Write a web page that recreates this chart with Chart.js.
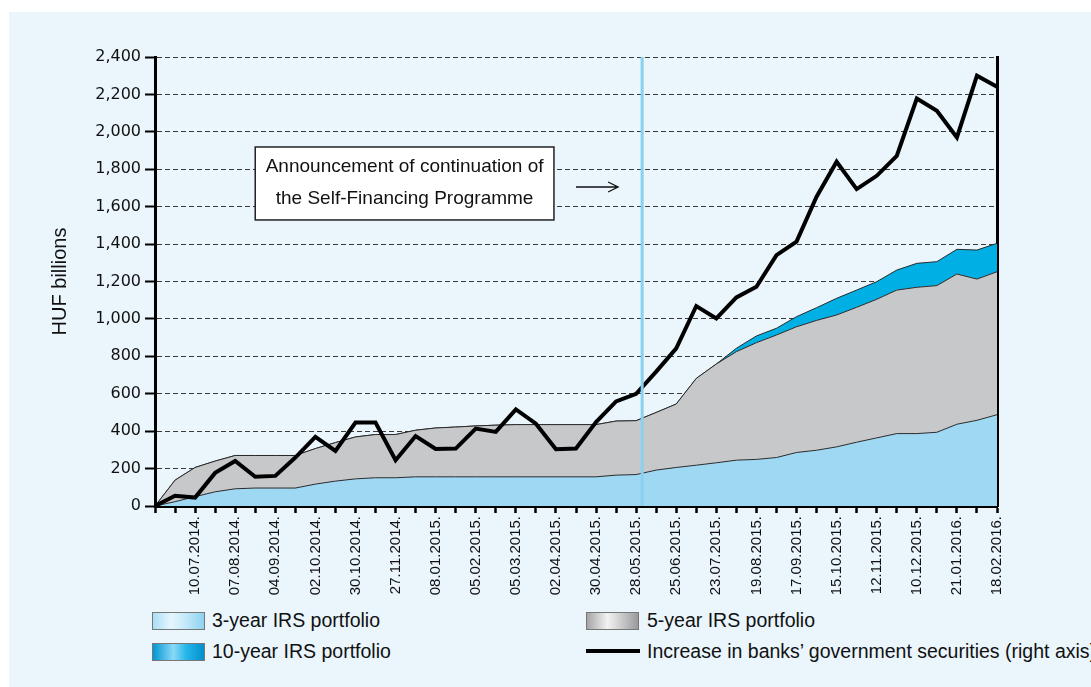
<!DOCTYPE html>
<html>
<head>
<meta charset="utf-8">
<script src="https://cdn.jsdelivr.net/npm/chart.js@4/dist/chart.umd.min.js"></script>
<style>
  html, body { margin: 0; padding: 0; background: #ffffff; }
  #panel {
    position: absolute; left: 9px; top: 12px; width: 1082px; height: 675px;
    background: #eaf5fc; overflow: hidden;
  }
  #wrap { position: absolute; left: 0; top: 0; width: 1091px; height: 687px; overflow: hidden; }
  canvas { position: absolute; left: 0; top: 0; }
  .lg { position: absolute; font: 19.5px "Liberation Sans", Arial, sans-serif; color: #111; white-space: nowrap; line-height: 22px; }
  .box { position: absolute; width: 51px; height: 16px; border: 1px solid #777; }
  .b3 { background: linear-gradient(90deg, #a9def5 0%, #e6f6fd 35%, #c8ebfa 60%, #8ed2f1 100%); }
  .b5 { background: linear-gradient(90deg, #a5a5a7 0%, #f2f2f2 40%, #cfcfd1 65%, #9a9a9c 100%); }
  .b10 { background: linear-gradient(90deg, #0096d2 0%, #8ad9f6 40%, #27b6ea 65%, #0090cc 100%); }
  .ln { position: absolute; width: 54px; height: 4px; background: #000; }
</style>
</head>
<body>
<div id="panel"></div>
<div id="wrap">
  <canvas id="chart" width="1091" height="600"></canvas>
  <div class="box b3" style="left:152px; top:612px;"></div>
  <div class="lg" style="left:212px; top:609px;">3-year IRS portfolio</div>
  <div class="box b10" style="left:152px; top:643px;"></div>
  <div class="lg" style="left:212px; top:640px;">10-year IRS portfolio</div>
  <div class="box b5" style="left:586px; top:612px;"></div>
  <div class="lg" style="left:647px; top:609px;">5-year IRS portfolio</div>
  <div class="ln" style="left:586px; top:649px;"></div>
  <div class="lg" style="left:647px; top:640px;">Increase in banks’ government securities (right axis)</div>
</div>
<script>
// ===== DATA =====
const dateLabels = ['',
  '', '10.07.2014.', '', '07.08.2014.', '', '04.09.2014.', '', '02.10.2014.',
  '', '30.10.2014.', '', '27.11.2014.', '', '08.01.2015.', '', '05.02.2015.',
  '', '05.03.2015.', '', '02.04.2015.', '', '30.04.2015.', '', '28.05.2015.',
  '', '25.06.2015.', '', '23.07.2015.', '', '19.08.2015.', '', '17.09.2015.',
  '', '15.10.2015.', '', '12.11.2015.', '', '10.12.2015.', '', '21.01.2016.',
  '', '18.02.2016.'];

const irs3 = [0, 23, 50, 76, 92, 96, 96, 96, 117, 133, 145, 151, 151, 156, 156,
  156, 156, 156, 156, 156, 156, 156, 156, 165, 168, 192, 206, 218, 231, 245,
  249, 259, 286, 298, 316, 341, 364, 387, 387, 394, 437, 458, 488];

const irs5 = [0, 115, 156, 164, 178, 174, 174, 174, 190, 206, 224, 231, 231, 249, 261,
  266, 272, 276, 279, 279, 279, 279, 279, 289, 288, 308, 339, 464, 528, 580,
  624, 655, 672, 694, 705, 721, 741, 767, 782, 784, 803, 755, 764];

const irs10 = [0, 0, 0, 0, 0, 0, 0, 0, 0, 0, 0, 0, 0, 0, 0,
  0, 0, 0, 0, 0, 0, 0, 0, 0, 0, 0, 0, 0, 0, 18,
  36, 36, 54, 68, 89, 92, 94, 107, 128, 128, 132, 155, 152];

const govSec = [0, 55, 45, 177, 241, 156, 161, 259, 369, 294, 446, 446, 245, 374, 305,
  307, 414, 396, 516, 440, 304, 307, 449, 559, 600, 718, 843, 1069, 1003, 1115,
  1172, 1341, 1413, 1653, 1840, 1694, 1765, 1871, 2178, 2112, 1970, 2300, 2241];

const yMin = 0, yMax = 2400, yStep = 200;

// announcement marker (x in category index units, y in HUF bn)
const markerX = 24.3;
const noteLines = ['Announcement of continuation of', 'the Self-Financing Programme'];
const noteBox = { x0: 5.0, x1: 19.9, yTop: 1919, yBot: 1529, textY: [1812, 1643] };
const noteArrow = { x0: 21.0, x1: 23.1, y: 1705 };

// ===== PLUGINS =====
const announcePlugin = {
  id: 'announce',
  afterDatasetsDraw(chart) {
    const { ctx, chartArea, scales } = chart;
    const x = scales.x, y = scales.y;
    ctx.save();
    ctx.setLineDash([]);
    // vertical marker
    const mx = x.getPixelForValue(markerX);
    ctx.strokeStyle = '#8ad0f0';
    ctx.lineWidth = 3;
    ctx.beginPath();
    ctx.moveTo(mx, chartArea.top);
    ctx.lineTo(mx, chartArea.bottom);
    ctx.stroke();

    // note box
    const bx0 = x.getPixelForValue(noteBox.x0), bx1 = x.getPixelForValue(noteBox.x1);
    const by0 = y.getPixelForValue(noteBox.yTop), by1 = y.getPixelForValue(noteBox.yBot);
    ctx.fillStyle = '#ffffff';
    ctx.fillRect(bx0, by0, bx1 - bx0, by1 - by0);
    ctx.strokeStyle = '#222';
    ctx.lineWidth = 1.5;
    ctx.strokeRect(bx0, by0, bx1 - bx0, by1 - by0);
    ctx.fillStyle = '#111';
    ctx.font = '19px "Liberation Sans", Arial, sans-serif';
    ctx.textAlign = 'center';
    ctx.textBaseline = 'middle';
    noteLines.forEach((t, i) => ctx.fillText(t, (bx0 + bx1) / 2, y.getPixelForValue(noteBox.textY[i])));

    // arrow
    const ax0 = x.getPixelForValue(noteArrow.x0), ax1 = x.getPixelForValue(noteArrow.x1);
    const ay = y.getPixelForValue(noteArrow.y);
    ctx.strokeStyle = '#111';
    ctx.lineWidth = 1.3;
    ctx.beginPath();
    ctx.moveTo(ax0, ay);
    ctx.lineTo(ax1, ay);
    ctx.moveTo(ax1 - 10, ay - 5);
    ctx.lineTo(ax1, ay);
    ctx.lineTo(ax1 - 10, ay + 5);
    ctx.stroke();
    ctx.restore();
  }
};

// ===== CHART =====
new Chart(document.getElementById('chart'), {
  type: 'line',
  data: {
    labels: dateLabels,
    datasets: [
      {
        label: 'Increase in banks’ government securities (right axis)',
        data: govSec,
        yAxisID: 'yR',
        borderColor: '#000',
        borderWidth: 4,
        borderJoinStyle: 'miter',
        pointRadius: 0,
        fill: false,
        tension: 0,
      },
      {
        label: '3-year IRS portfolio',
        data: irs3,
        yAxisID: 'y',
        borderColor: '#2a2a2a',
        borderWidth: 1,
        backgroundColor: '#9fd8f3',
        pointRadius: 0,
        fill: 'origin',
        tension: 0,
      },
      {
        label: '5-year IRS portfolio',
        data: irs5,
        yAxisID: 'y',
        borderColor: '#2a2a2a',
        borderWidth: 1,
        backgroundColor: '#c7c8ca',
        pointRadius: 0,
        fill: '-1',
        tension: 0,
      },
      {
        label: '10-year IRS portfolio',
        data: irs10,
        yAxisID: 'y',
        borderColor: '#2a2a2a',
        borderWidth: 1,
        backgroundColor: '#00b0e5',
        pointRadius: 0,
        fill: '-1',
        tension: 0,
      },
    ],
  },
  options: {
    responsive: false,
    animation: false,
    layout: { padding: { left: 0, right: 94, top: 57, bottom: 0 } },
    plugins: { legend: { display: false }, tooltip: { enabled: false } },
    scales: {
      x: {
        offset: false,
        grid: { drawOnChartArea: false, drawTicks: true, tickLength: 7, tickColor: '#000', tickWidth: 2.5 },
        border: { color: '#000', width: 3 },
        ticks: {
          autoSkip: false, maxRotation: 90, minRotation: 90, padding: 3,
          color: '#111', font: { family: '"Liberation Sans", Arial, sans-serif', size: 15 },
        },
        afterFit: (s) => { s.height = 94; },
      },
      y: {
        stacked: true,
        min: yMin, max: yMax,
        grid: { color: '#3a3a3a', lineWidth: 1, tickColor: '#000', tickWidth: 2, tickLength: 10, tickBorderDash: [] },
        border: { color: '#000', width: 3, dash: [5, 3] },
        ticks: {
          stepSize: yStep, padding: 4, color: '#111',
          font: { family: '"DejaVu Sans", sans-serif', size: 16 },
          callback: (v) => v.toLocaleString('en-US'),
        },
        title: {
          display: true, text: 'HUF billions', color: '#111',
          font: { family: '"Liberation Sans", Arial, sans-serif', size: 20 },
          padding: { top: 48, bottom: 0 },
        },
        afterFit: (s) => { s.width = 155; },
      },
      yR: {
        position: 'right',
        min: yMin, max: yMax,
        grid: { drawOnChartArea: false, drawTicks: false },
        border: { color: '#000', width: 3 },
        ticks: { display: false },
        afterFit: (s) => { s.width = 0; },
      },
    },
  },
  plugins: [announcePlugin],
});
</script>
</body>
</html>
